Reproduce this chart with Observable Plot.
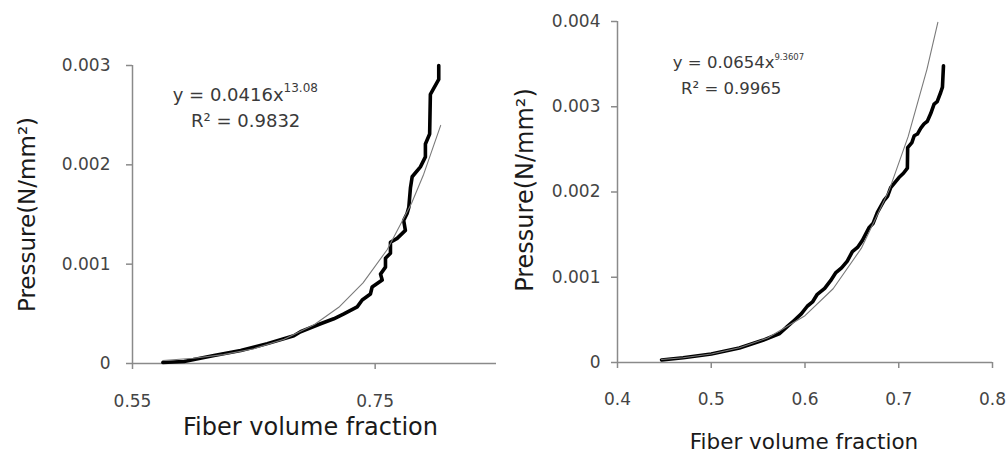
<!DOCTYPE html>
<html>
<head>
<meta charset="utf-8">
<script src="https://cdn.jsdelivr.net/npm/d3@7"></script>
<script src="https://cdn.jsdelivr.net/npm/@observablehq/plot@0.6"></script>
<style>
  html, body { margin: 0; padding: 0; background: #fff; }
  #wrap { display: flex; width: 1006px; height: 455px; overflow: hidden; }
  #wrap svg { flex: none; background: #fff; }
</style>
</head>
<body>
<div id="wrap"></div>
<script>
// ---------- Left panel data ----------
const leftX = [0.575, 0.5925, 0.6172, 0.6392, 0.6611, 0.683, 0.6885, 0.705, 0.7159, 0.7242, 0.7352, 0.7393, 0.7461, 0.7475, 0.7558, 0.7544, 0.7585, 0.7585, 0.7626, 0.7626, 0.7681, 0.7749, 0.7735, 0.7763, 0.7777, 0.7791, 0.7805, 0.7873, 0.7914, 0.7914, 0.7949, 0.7955, 0.8024, 0.8024];
const leftP = [0.00001, 0.00002, 0.00008, 0.00013, 0.0002, 0.00028, 0.00032, 0.0004, 0.00045, 0.0005, 0.00057, 0.00064, 0.0007, 0.00077, 0.00084, 0.0009, 0.00097, 0.00106, 0.00111, 0.00122, 0.00126, 0.00134, 0.00144, 0.00151, 0.00157, 0.00177, 0.00188, 0.00198, 0.00208, 0.00221, 0.00231, 0.00271, 0.00286, 0.0030];
// power trendline y = 0.0416x^13.08
const leftTrendX = [0.575, 0.60, 0.625, 0.65, 0.675, 0.70, 0.72, 0.74, 0.76, 0.78, 0.79, 0.804];
const leftTrendP = [0.0000299, 0.0000521, 0.000089, 0.0001486, 0.0002436, 0.000392, 0.000566, 0.000811, 0.001148, 0.001613, 0.001906, 0.002397];
const leftXTicks = [0.55, 0.75];
const leftXLabels = ["0.55", "0.75"];
const leftYTicks = [0, 0.001, 0.002, 0.003];
const leftYLabels = ["0", "0.001", "0.002", "0.003"];
const leftEqMain = ["y = 0.0416x"];
const leftEqSup = ["13.08"];
const leftEqR2 = ["R² = 0.9832"];
const leftEqPos = [{x: 0.6745, y: 0.002697}];
const leftR2Pos = [{x: 0.6433, y: 0.002435}];

// ---------- Right panel data ----------
const rightX = [0.447, 0.47, 0.50, 0.53, 0.555, 0.573, 0.581, 0.5881, 0.596, 0.6024, 0.608, 0.6131, 0.621, 0.6273, 0.6326, 0.639, 0.6451, 0.6505, 0.656, 0.6611, 0.6682, 0.6725, 0.6772, 0.6842, 0.688, 0.6914, 0.7002, 0.705, 0.7092, 0.7095, 0.714, 0.7165, 0.7199, 0.7235, 0.727, 0.7305, 0.7341, 0.7377, 0.741, 0.7448, 0.7466, 0.7477];
const rightP = [0.00003, 0.000055, 0.0001, 0.00017, 0.00026, 0.00034, 0.00042, 0.00049, 0.00057, 0.00066, 0.00071, 0.0008, 0.00087, 0.00096, 0.00105, 0.00111, 0.00119, 0.0013, 0.00135, 0.00143, 0.00158, 0.00163, 0.00176, 0.0019, 0.00195, 0.00205, 0.00217, 0.00222, 0.00228, 0.00252, 0.00258, 0.00266, 0.00268, 0.00275, 0.0028, 0.00283, 0.00292, 0.00303, 0.00306, 0.00317, 0.00323, 0.00348];
// power trendline y = 0.0654x^9.3607
const rightTrendX = [0.447, 0.47, 0.50, 0.53, 0.56, 0.60, 0.63, 0.66, 0.69, 0.71, 0.73, 0.7417];
const rightTrendP = [0.0000348, 0.0000558, 0.0000995, 0.000172, 0.0002874, 0.000549, 0.000865, 0.001338, 0.002028, 0.002649, 0.003436, 0.00399];
const rightXTicks = [0.4, 0.5, 0.6, 0.7, 0.8];
const rightXLabels = ["0.4", "0.5", "0.6", "0.7", "0.8"];
const rightYTicks = [0, 0.001, 0.002, 0.003, 0.004];
const rightYLabels = ["0", "0.001", "0.002", "0.003", "0.004"];
const rightEqMain = ["y = 0.0654x"];
const rightEqSup = ["9.3607"];
const rightEqR2 = ["R² = 0.9965"];
const rightEqPos = [{x: 0.5674, y: 0.003513}];
const rightR2Pos = [{x: 0.5212, y: 0.003208}];

const xTitle = "Fiber volume fraction";
const yTitle = "Pressure(N/mm²)";

const AXIS = "#8a8a8a";
const TICKTEXT = "#444";
const FONT = "DejaVu Sans, sans-serif";

function zip(xs, ys) { return xs.map((x, i) => ({x, y: ys[i]})); }

function panel(cfg) {
  return Plot.plot({
    width: 503,
    height: 455,
    marginLeft: cfg.ml, marginRight: cfg.mr, marginTop: cfg.mt, marginBottom: cfg.mb,
    x: {domain: cfg.xDomain},
    y: {domain: cfg.yDomain},
    style: {fontFamily: FONT, fontSize: "17px", color: TICKTEXT, background: "#fff", overflow: "visible"},
    marks: [
      Plot.ruleY([cfg.yDomain[0]], {stroke: AXIS, strokeWidth: 1.5}),
      Plot.ruleX([cfg.xDomain[0]], {stroke: AXIS, strokeWidth: 1.5}),
      Plot.axisX({ticks: cfg.xTicks, tickFormat: d => cfg.xLabels[cfg.xTicks.indexOf(d)], tickSize: 6, tickPadding: cfg.xPad, stroke: AXIS, strokeWidth: 1.5, fill: TICKTEXT, fontSize: 17, label: null}),
      Plot.axisY({ticks: cfg.yTicks, tickFormat: d => cfg.yLabels[cfg.yTicks.indexOf(d)], tickSize: 6, tickPadding: cfg.yPad, stroke: AXIS, strokeWidth: 1.5, fill: TICKTEXT, fontSize: 17, label: null}),
      Plot.line(zip(cfg.dataX, cfg.dataP), {x: "x", y: "y", stroke: "#000", strokeWidth: 3.6, strokeLinejoin: "round", strokeLinecap: "round"}),
      Plot.line(zip(cfg.trendX, cfg.trendP), {x: "x", y: "y", stroke: "#7a7a7a", strokeWidth: 1.1}),
      Plot.text(cfg.eqPos, {x: "x", y: "y", text: () => cfg.eqMain[0], textAnchor: "end", fontSize: cfg.eqFont, fill: "#3a3a3a"}),
      Plot.text(cfg.eqPos, {x: "x", y: "y", text: () => cfg.eqSup[0], textAnchor: "start", fontSize: cfg.supFont, dy: cfg.supDy, fill: "#3a3a3a"}),
      Plot.text(cfg.r2Pos, {x: "x", y: "y", text: () => cfg.eqR2[0], textAnchor: "middle", fontSize: cfg.eqFont, fill: "#3a3a3a"}),
      Plot.text([xTitle], {text: d => d, frameAnchor: "bottom", textAnchor: "middle", lineAnchor: "middle", dx: cfg.xtDx, dy: cfg.xtDy, fontSize: cfg.xtFont, fill: "#1a1a1a"}),
      Plot.text([yTitle], {text: d => d, frameAnchor: "left", textAnchor: "middle", lineAnchor: "middle", rotate: -90, dx: cfg.ytDx, dy: cfg.ytDy, fontSize: cfg.ytFont, fill: "#1a1a1a"})
    ]
  });
}

const left = panel({
  ml: 132, mr: 7, mt: 65, mb: 92,
  xDomain: [0.55, 0.85], yDomain: [0, 0.003],
  xTicks: leftXTicks, xLabels: leftXLabels, yTicks: leftYTicks, yLabels: leftYLabels,
  xPad: 25, yPad: 16,
  dataX: leftX, dataP: leftP, trendX: leftTrendX, trendP: leftTrendP,
  eqPos: leftEqPos, r2Pos: leftR2Pos, eqMain: leftEqMain, eqSup: leftEqSup, eqR2: leftEqR2,
  eqFont: 18, supFont: 12, supDy: -7,
  xtDx: -4, xtDy: 64, xtFont: 24,
  ytDx: -105, ytDy: 0, ytFont: 23
});

const right = panel({
  ml: 114, mr: 14, mt: 21, mb: 93,
  xDomain: [0.4, 0.8], yDomain: [0, 0.004],
  xTicks: rightXTicks, xLabels: rightXLabels, yTicks: rightYTicks, yLabels: rightYLabels,
  xPad: 24, yPad: 11,
  dataX: rightX, dataP: rightP, trendX: rightTrendX, trendP: rightTrendP,
  eqPos: rightEqPos, r2Pos: rightR2Pos, eqMain: rightEqMain, eqSup: rightEqSup, eqR2: rightEqR2,
  eqFont: 16.5, supFont: 8.5, supDy: -6,
  xtDx: -1, xtDy: 80, xtFont: 21.5,
  ytDx: -92, ytDy: -2, ytFont: 24
});

document.getElementById("wrap").append(left, right);
</script>
</body>
</html>
